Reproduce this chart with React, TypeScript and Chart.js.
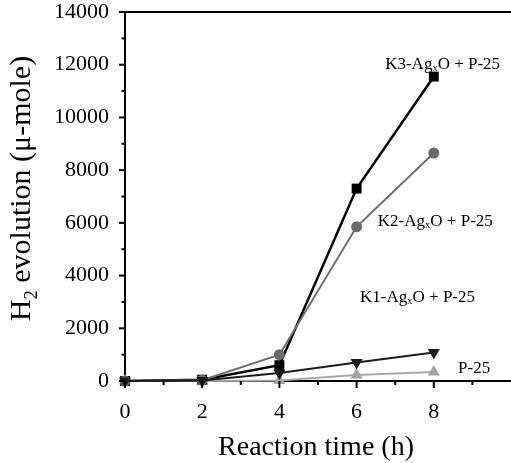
import { useEffect, useRef } from "react";
import { Chart, registerables } from "chart.js";

Chart.register(...registerables);

// ---- data ----
const times = [0, 2, 4, 6, 8];
const k3Values = [0, 50, 600, 7300, 11550];
const k2Values = [0, 30, 1000, 5850, 8650];
const k1Values = [0, 20, 300, 700, 1080];
const p25Values = [0, 0, 20, 230, 340];

const xTickLabels = [0, 2, 4, 6, 8];
const xMinorTicks = [1, 3, 5, 7, 9];
const yTickLabels = [0, 2000, 4000, 6000, 8000, 10000, 12000, 14000];
const yMinorTicks = [1000, 3000, 5000, 7000, 9000, 11000, 13000];

// series labels: [prefix, subscript, suffix], anchored at data coordinates
const seriesLabels = [
  { parts: ["K3-Ag", "x", "O + P-25"], x: 6.74, y: 12010 },
  { parts: ["K2-Ag", "x", "O + P-25"], x: 6.55, y: 6040 },
  { parts: ["K1-Ag", "x", "O + P-25"], x: 6.09, y: 3185 },
  { parts: ["P-25", "", ""], x: 8.63, y: 480 },
];

const SERIF = "'Liberation Serif', 'Times New Roman', serif";

function toPoints(vals: number[]) {
  return times.map((t, i) => ({ x: t, y: vals[i] }));
}

type Part = { t: string; sub?: boolean };

function drawRich(ctx: CanvasRenderingContext2D, parts: Part[], x: number, y: number, size: number, align: "left" | "center") {
  const subSize = size * 0.62;
  let total = 0;
  const widths = parts.map((p) => {
    ctx.font = `${p.sub ? subSize : size}px ${SERIF}`;
    const w = ctx.measureText(p.t).width;
    total += w;
    return w;
  });
  let cx = align === "center" ? x - total / 2 : x;
  ctx.textAlign = "left";
  parts.forEach((p, i) => {
    ctx.font = `${p.sub ? subSize : size}px ${SERIF}`;
    ctx.fillText(p.t, cx, p.sub ? y + size * 0.22 : y);
    cx += widths[i];
  });
}

const decorPlugin = {
  id: "decor",
  afterDraw(chart: any) {
    const { ctx, chartArea } = chart;
    const xs = chart.scales.x;
    const ys = chart.scales.y;
    ctx.save();
    ctx.strokeStyle = "#000";
    ctx.lineWidth = 2;
    const line = (x1: number, y1: number, x2: number, y2: number) => {
      ctx.beginPath();
      ctx.moveTo(x1, y1);
      ctx.lineTo(x2, y2);
      ctx.stroke();
    };
    // top border
    line(chartArea.left - 1, chartArea.top, chartArea.right, chartArea.top);
    // y ticks
    yTickLabels.forEach((v) => {
      const p = ys.getPixelForValue(v);
      line(chartArea.left - 6, p, chartArea.left, p);
    });
    yMinorTicks.forEach((v) => {
      const p = ys.getPixelForValue(v);
      line(chartArea.left - 3.5, p, chartArea.left, p);
    });
    // x ticks
    xTickLabels.forEach((v) => {
      const p = xs.getPixelForValue(v);
      line(p, chartArea.bottom, p, chartArea.bottom + 7);
    });
    xMinorTicks.forEach((v) => {
      const p = xs.getPixelForValue(v);
      line(p, chartArea.bottom, p, chartArea.bottom + 4);
    });

    // series labels
    ctx.fillStyle = "#000";
    ctx.textBaseline = "middle";
    seriesLabels.forEach((l) => {
      const parts: Part[] = [{ t: l.parts[0] }];
      if (l.parts[1]) parts.push({ t: l.parts[1], sub: true });
      if (l.parts[2]) parts.push({ t: l.parts[2] });
      drawRich(ctx, parts, xs.getPixelForValue(l.x), ys.getPixelForValue(l.y), 17, "left");
    });

    // axis titles
    ctx.textBaseline = "alphabetic";
    drawRich(ctx, [{ t: "Reaction time (h)" }], 316, 455, 28, "center");
    ctx.translate(30, 188.5);
    ctx.rotate(-Math.PI / 2);
    drawRich(ctx, [{ t: "H" }, { t: "2", sub: true }, { t: " evolution (μ-mole)" }], 0, 0, 30, "center");
    ctx.restore();
  },
};

export default function App() {
  const ref = useRef<HTMLCanvasElement | null>(null);
  useEffect(() => {
    if (!ref.current) return;
    const chart = new Chart(ref.current, {
      type: "line",
      data: {
        datasets: [
          {
            label: "K1-AgxO + P-25",
            data: toPoints(k1Values),
            borderColor: "#1c1c1c",
            backgroundColor: "#1c1c1c",
            borderWidth: 2,
            pointStyle: "triangle",
            pointRotation: 180,
            pointRadius: 7,
            pointBorderWidth: 0,
            order: 0,
            clip: false,
          },
          {
            label: "K2-AgxO + P-25",
            data: toPoints(k2Values),
            borderColor: "#6f6f6f",
            backgroundColor: "#6a6a6a",
            borderWidth: 2,
            pointStyle: "circle",
            pointRadius: 5.5,
            pointBorderWidth: 0,
            order: 1,
            clip: false,
          },
          {
            label: "K3-AgxO + P-25",
            data: toPoints(k3Values),
            borderColor: "#000",
            backgroundColor: "#000",
            borderWidth: 2.5,
            pointStyle: "rect",
            pointRadius: 7,
            pointBorderWidth: 0,
            order: 2,
            clip: false,
          },
          {
            label: "P-25",
            data: toPoints(p25Values),
            borderColor: "#a8a8a8",
            backgroundColor: "#a4a4a4",
            borderWidth: 2,
            pointStyle: "triangle",
            pointRadius: 7,
            pointBorderWidth: 0,
            order: 3,
            clip: false,
          },
        ] as any,
      },
      options: {
        animation: false,
        responsive: false,
        devicePixelRatio: 1,
        layout: { padding: { top: 12, left: 0, right: 0, bottom: 0 }, autoPadding: false },
        plugins: { legend: { display: false }, tooltip: { enabled: false } },
        elements: { line: { tension: 0 } },
        scales: {
          x: {
            type: "linear",
            min: 0,
            max: 10,
            afterFit: (s: any) => {
              s.height = 82;
              s.paddingLeft = 0;
              s.paddingRight = 0;
              s.paddingTop = 0;
              s.paddingBottom = 0;
            },
            afterBuildTicks: (s: any) => {
              s.ticks = xTickLabels.map((v) => ({ value: v }));
            },
            grid: { display: false, drawTicks: false },
            border: { display: true, color: "#000", width: 2 },
            ticks: {
              padding: 18,
              color: "#000",
              font: { family: SERIF, size: 22 },
              maxRotation: 0,
              autoSkip: false,
            },
          },
          y: {
            type: "linear",
            min: 0,
            max: 14000,
            afterFit: (s: any) => {
              s.width = 125;
              s.paddingLeft = 0;
              s.paddingRight = 0;
              s.paddingTop = 0;
              s.paddingBottom = 0;
            },
            afterBuildTicks: (s: any) => {
              s.ticks = yTickLabels.map((v) => ({ value: v }));
            },
            grid: { display: false, drawTicks: false },
            border: { display: true, color: "#000", width: 2 },
            ticks: {
              padding: 16,
              color: "#000",
              font: { family: SERIF, size: 22 },
              autoSkip: false,
              callback: (v: any) => String(v),
            },
          },
        },
      },
      plugins: [decorPlugin],
    });
    return () => chart.destroy();
  }, []);
  return (
    <div style={{ position: "absolute", left: 0, top: 0, width: 511, height: 463, background: "#fff", overflow: "hidden" }}>
      <canvas ref={ref} width={511} height={463} style={{ display: "block" }} />
    </div>
  );
}
